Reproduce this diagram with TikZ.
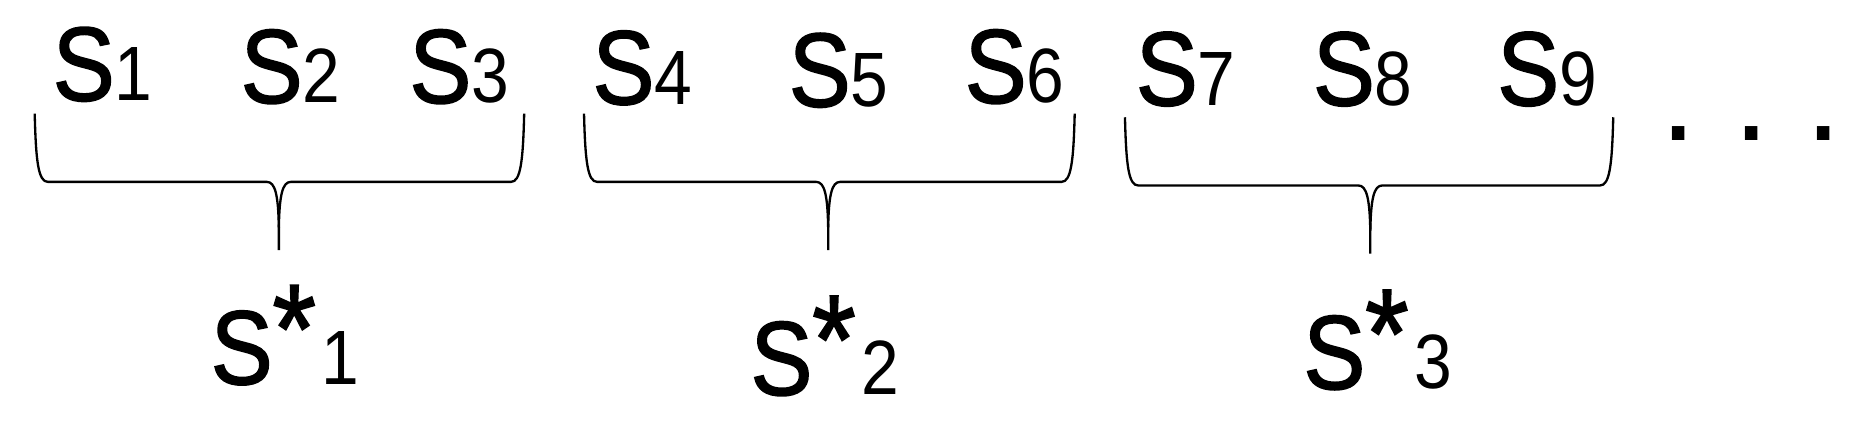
\documentclass[tikz,border=0pt]{standalone}
\usepackage{fontspec}
\setmainfont{Liberation Sans}
\newfontfamily\heavy[FakeBold=1.5,FakeStretch=0.88]{Liberation Sans}
\newfontfamily\narrow[FakeStretch=0.88]{Liberation Sans}
\usepackage{tikz}

\tikzset{
  elem/.style={anchor=base west, inner sep=0pt, font=\fontsize{25}{25}\heavy},
  brc/.style={line width=0.55pt}
}
\newcommand{\idx}[1]{{\fontsize{18.3}{18.3}\narrow #1}}
\newcommand{\grp}[1]{S\raisebox{0.1cm}{\fontsize{30}{30}\selectfont *}\hspace{0.05cm}\idx{#1}}
\newcommand{\curly}[4]{%
  \draw[brc] (#1,95+#4) .. controls (#1+1,135+#4) and (#1+3,152+#4) .. (#1+11,152+#4)
    -- (#2-10,152+#4) .. controls (#2-3,152+#4) and (#2-0.5,163+#4) .. (#2,190+#4) -- (#2,209+#4);
  \draw[brc] (#3,95+#4) .. controls (#3-1,135+#4) and (#3-3,152+#4) .. (#3-11,152+#4)
    -- (#2+10,152+#4) .. controls (#2+3,152+#4) and (#2+0.5,163+#4) .. (#2,190+#4);
}

\begin{document}
\begin{tikzpicture}[x=0.01cm,y=-0.01cm]
          \useasboundingbox (0,0) rectangle (1550,362);
          \node[elem] (s1) at (43.5,84) {S\idx{1}};
          \node[elem] (s2) at (200.5,86) {S\idx{2}};
          \node[elem] (s3) at (341.5,86) {S\idx{3}};
          \node[elem] (s4) at (494.5,87) {S\idx{4}};
          \node[elem] (s5) at (658.5,89) {S\idx{5}};
          \node[elem] (s6) at (805.5,86) {S\idx{6}};
          \node[elem] (s7) at (948.5,88) {S\idx{7}};
          \node[elem] (s8) at (1096.5,88) {S\idx{8}};
          \node[elem] (s9) at (1250.5,88) {S\idx{9}};
          \node[elem,font=\fontsize{31}{31}\selectfont] (dots) at (1387,117) {.\ .\ .};
          \curly{29}{233}{438}{0}
          \curly{488}{692}{898}{0}
          \curly{940}{1145}{1348}{3}
          \node[elem] (g1) at (175.5,321) {\grp{1}};
          \node[elem] (g2) at (626.5,330) {\grp{2}};
          \node[elem] (g3) at (1088.5,325) {\grp{3}};
        \end{tikzpicture}
\end{document}
